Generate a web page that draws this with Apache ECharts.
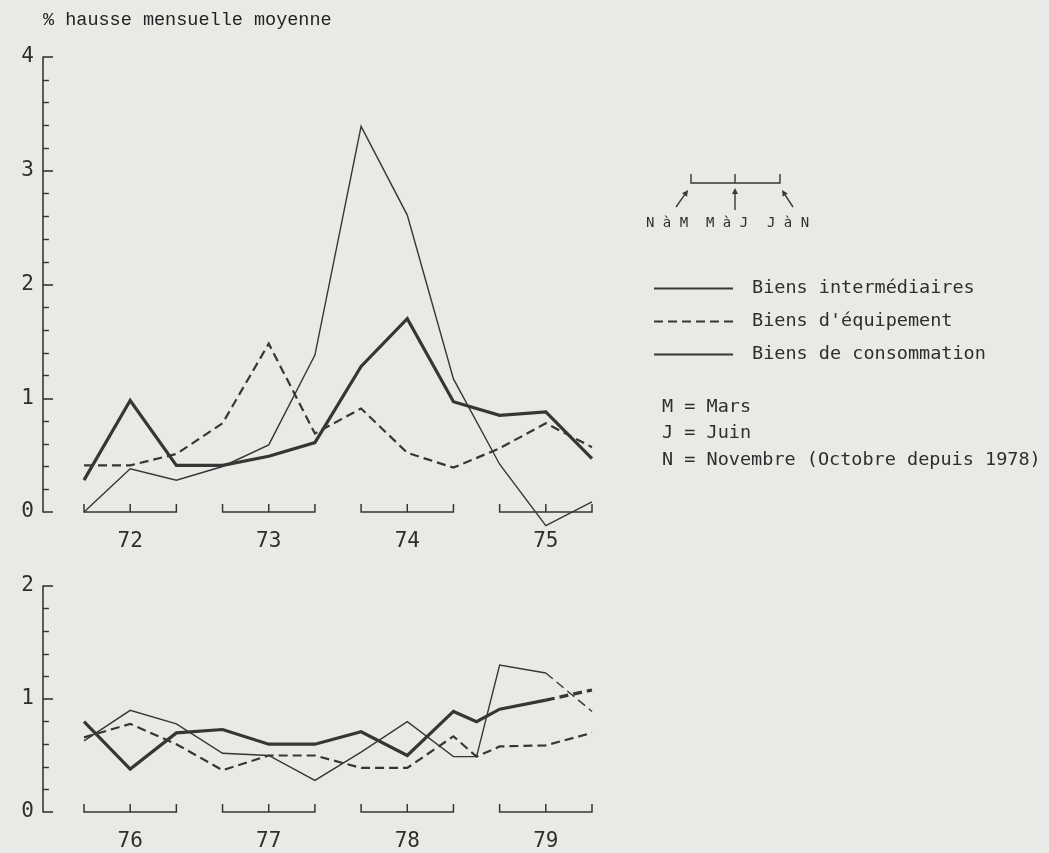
<!DOCTYPE html>
<html>
<head>
<meta charset="utf-8">
<script src="https://cdn.jsdelivr.net/npm/echarts@6/dist/echarts.min.js"></script>
<style>
  html, body { margin: 0; padding: 0; background: #e9e9e6; }
  #chart { width: 1049px; height: 853px; }
</style>
</head>
<body>
<div id="chart"></div>
<script>
// ---- Data ----
// x positions: 3 points per year (N à M, M à J, J à N)
const yearsTop = ['72', '73', '74', '75'];
const yearsBottom = ['76', '77', '78', '79'];
const xTop = [0, 1, 2, 3, 4, 5, 6, 7, 8, 9, 10, 11];
const xBottom = [0, 1, 2, 3, 4, 5, 6, 7, 8, 8.5, 9, 10, 11];

// 1972-1975
const intermediairesTop = [0, 0.38, 0.28, 0.40, 0.59, 1.38, 3.39, 2.61, 1.17, 0.42, -0.12, 0.09];
const equipementTop     = [0.41, 0.41, 0.51, 0.78, 1.48, 0.69, 0.91, 0.52, 0.39, 0.56, 0.78, 0.57];
const consommationTop   = [0.28, 0.98, 0.41, 0.41, 0.49, 0.61, 1.28, 1.70, 0.97, 0.85, 0.88, 0.47];

// 1976-1979 (last segment of two series drawn dashed in the original)
const intermediairesBottom = [0.63, 0.90, 0.78, 0.52, 0.50, 0.28, 0.53, 0.80, 0.49, 0.49, 1.30, 1.23, 0.89];
const equipementBottom     = [0.66, 0.78, 0.60, 0.37, 0.50, 0.50, 0.39, 0.39, 0.67, 0.49, 0.58, 0.59, 0.70];
const consommationBottom   = [0.80, 0.38, 0.70, 0.73, 0.60, 0.60, 0.71, 0.50, 0.89, 0.80, 0.91, 0.99, 1.08];

const yTicksTop = { min: 0, max: 4, interval: 1 };
const yTicksBottom = { min: 0, max: 2, interval: 1 };

const NAMES = ['Biens intermédiaires', "Biens d'équipement", 'Biens de consommation'];

// ---- Styles ----
const INK = '#363636';
const TXT = '#2e2e2e';
const MONO = "'DejaVu Sans Mono', monospace";
const TYPE = "'Liberation Mono', 'Courier New', monospace";
const DASH = [9, 5];
const styles = [
  { width: 1.4, type: 'solid' },
  { width: 2.2, type: DASH },
  { width: 3.2, type: 'solid' }
];
const X_MIN = -0.888; // room between the y axis line and the first point

function pairs(xs, ys, from, to) {
  const out = [];
  for (let i = from; i <= to; i++) out.push([xs[i], ys[i]]);
  return out;
}

function lineSeries(name, grid, data, st, dashed) {
  return {
    type: 'line', name: name, xAxisIndex: grid, yAxisIndex: grid,
    data: data, symbol: 'none', showSymbol: false, clip: false, silent: true,
    itemStyle: { color: INK },
    lineStyle: { color: INK, width: st.width, type: dashed ? DASH : st.type, cap: 'butt', join: 'miter' },
    z: 3
  };
}

function bracketSeries(grid, years) {
  const data = years.map((y, i) => [3 * i, 3 * i + 2, 3 * i + 1, 0]);
  return {
    type: 'custom', xAxisIndex: grid, yAxisIndex: grid, silent: true, clip: false,
    encode: { x: [0, 1, 2], y: 3 },
    data: data,
    renderItem: function (params, api) {
      const s = api.coord([api.value(0), api.value(3)]);
      const e = api.coord([api.value(1), api.value(3)]);
      const m = api.coord([api.value(2), api.value(3)]);
      const h = 8;
      return {
        type: 'group',
        children: [
          { type: 'polyline', shape: { points: [[s[0], s[1] - h], [s[0], s[1]], [e[0], e[1]], [e[0], e[1] - h]] },
            style: { stroke: INK, lineWidth: 1.5, fill: null } },
          { type: 'line', shape: { x1: m[0], y1: m[1], x2: m[0], y2: m[1] - h },
            style: { stroke: INK, lineWidth: 1.5 } },
          { type: 'text', style: { text: years[params.dataIndex], x: m[0], y: m[1] + 30,
            align: 'center', verticalAlign: 'middle', fontSize: 21, fontFamily: MONO, fill: TXT } }
        ]
      };
    }
  };
}

function yAxis(grid, t) {
  return {
    type: 'value', gridIndex: grid, min: t.min, max: t.max, interval: t.interval,
    position: 'left',
    axisLine: { show: true, onZero: false, lineStyle: { color: INK, width: 1.6 } },
    axisTick: { show: true, inside: true, length: 10, lineStyle: { color: INK, width: 1.6 } },
    minorTick: { show: true, splitNumber: 5, length: 6, lineStyle: { color: INK, width: 1.4 } },
    splitLine: { show: false },
    axisLabel: { margin: 9, fontSize: 21, fontFamily: MONO, color: TXT }
  };
}

const series = [
  lineSeries(NAMES[0], 0, pairs(xTop, intermediairesTop, 0, 11), styles[0]),
  lineSeries(NAMES[1], 0, pairs(xTop, equipementTop, 0, 11), styles[1]),
  lineSeries(NAMES[2], 0, pairs(xTop, consommationTop, 0, 11), styles[2]),
  lineSeries(NAMES[0], 1, pairs(xBottom, intermediairesBottom, 0, 11), styles[0]),
  lineSeries(NAMES[0] + ' (fin)', 1, pairs(xBottom, intermediairesBottom, 11, 12), styles[0], true),
  lineSeries(NAMES[1], 1, pairs(xBottom, equipementBottom, 0, 12), styles[1]),
  lineSeries(NAMES[2], 1, pairs(xBottom, consommationBottom, 0, 11), styles[2]),
  lineSeries(NAMES[2] + ' (fin)', 1, pairs(xBottom, consommationBottom, 11, 12), styles[2], true),
  bracketSeries(0, yearsTop),
  bracketSeries(1, yearsBottom)
];

function arrow(tail, tip) {
  const dx = tip[0] - tail[0], dy = tip[1] - tail[1];
  const L = Math.sqrt(dx * dx + dy * dy), ux = dx / L, uy = dy / L;
  const bx = tip[0] - 6 * ux, by = tip[1] - 6 * uy, px = -uy, py = ux;
  return [
    { type: 'line', shape: { x1: tail[0], y1: tail[1], x2: bx, y2: by }, style: { stroke: INK, lineWidth: 1.4 } },
    { type: 'polygon', shape: { points: [tip, [bx + 3 * px, by + 3 * py], [bx - 3 * px, by - 3 * py]] }, style: { fill: INK } }
  ];
}

const keyText = (t, x, y, size) => ({ type: 'text', style: { text: t, x: x, y: y, align: 'center', verticalAlign: 'middle', fontSize: size, fontFamily: MONO, fill: TXT } });
const noteText = (t, y) => ({ type: 'text', style: { text: t, x: 662, y: y, align: 'left', verticalAlign: 'middle', fontSize: 18.5, fontFamily: MONO, fill: TXT } });

const graphic = [
  { type: 'polyline', shape: { points: [[691, 174], [691, 183], [780, 183], [780, 174]] }, style: { stroke: INK, lineWidth: 1.4, fill: null } },
  { type: 'line', shape: { x1: 735, y1: 183, x2: 735, y2: 174 }, style: { stroke: INK, lineWidth: 1.4 } },
  ...arrow([676, 207], [688, 190]),
  ...arrow([735, 210], [735, 188]),
  ...arrow([793, 207], [782, 190]),
  keyText('N à M', 667, 223, 14),
  keyText('M à J', 727, 223, 14),
  keyText('J à N', 788, 223, 14),
  noteText('M = Mars', 407),
  noteText('J = Juin', 433),
  noteText('N = Novembre (Octobre depuis 1978)', 460)
];

const chart = echarts.init(document.getElementById('chart'), null, { renderer: 'canvas' });
chart.setOption({
  backgroundColor: '#e9e9e6',
  animation: false,
  title: {
    text: '% hausse mensuelle moyenne', left: 38, top: 6,
    textStyle: { fontFamily: TYPE, fontSize: 18.5, fontWeight: 'normal', color: '#222' }
  },
  legend: {
    data: NAMES, orient: 'vertical', left: 648, top: 274,
    itemWidth: 79, itemHeight: 12, itemGap: 14,
    itemStyle: { opacity: 0 },
    textStyle: { fontFamily: MONO, fontSize: 18.5, color: TXT, padding: [0, 0, 0, 14] },
    selectedMode: false
  },
  grid: [
    { left: 43, width: 549, top: 57, height: 455 },
    { left: 43, width: 549, top: 586, height: 226 }
  ],
  xAxis: [
    { type: 'value', gridIndex: 0, min: X_MIN, max: 11, show: false },
    { type: 'value', gridIndex: 1, min: X_MIN, max: 11, show: false }
  ],
  yAxis: [yAxis(0, yTicksTop), yAxis(1, yTicksBottom)],
  graphic: graphic,
  series: series
});
</script>
</body>
</html>
